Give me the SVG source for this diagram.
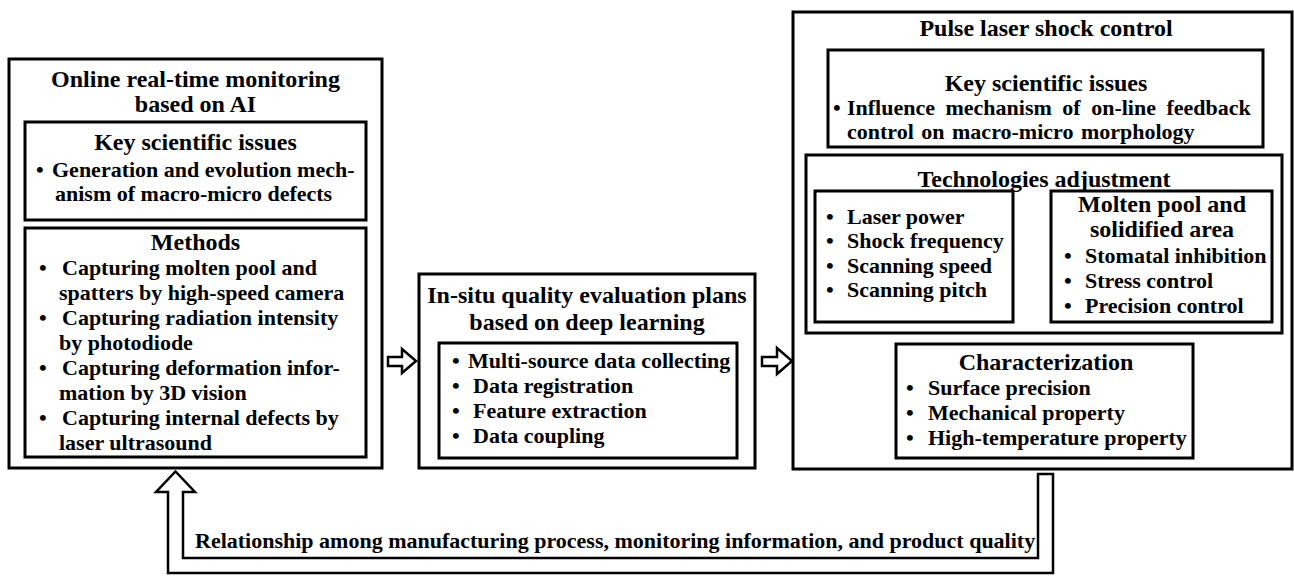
<svg xmlns="http://www.w3.org/2000/svg" width="1294" height="576" viewBox="0 0 1294 576">
<style>
.box{fill:#fff;stroke:#000;stroke-width:3}
.arr{fill:#fff;stroke:#000;stroke-width:2.5;stroke-linejoin:miter}
text{font-family:"Liberation Serif","Times New Roman",serif;font-weight:bold;fill:#000}
.h{font-size:24px;text-anchor:middle}
.t{font-size:22px}
</style>
<rect width="1294" height="576" fill="#fff"/>
<g id="connectors">
<path class="arr" d="M388,357 H402 V349 L416,361 L402,373 V366 H388 Z"/>
<path class="arr" d="M762,357 H777 V348 L792,361 L777,374 V366 H762 Z"/>
<path class="arr" d="M1017,253 H1032 V246 L1047,257.5 L1032,269 V262 H1017 Z"/>
<path class="arr" stroke-width="3" d="M1038,474 H1053 V573 H168 V492 H156 L175.5,471.5 L195,492 H183 V558 H1038 Z"/>
<text class="t" x="195" y="548">Relationship among manufacturing process, monitoring information, and product quality</text>
</g>
<g id="monitoring">
<rect class="box" x="9" y="59" width="373" height="409"/>
<text class="h" x="195.5" y="87">Online real-time monitoring</text>
<text class="h" x="195.5" y="112">based on AI</text>
<g id="monitoring-issues">
<rect class="box" x="25" y="122" width="341" height="98"/>
<text class="h" x="195.5" y="150">Key scientific issues</text>
<text class="t" x="36" y="177">•</text>
<text class="t" x="52" y="177">Generation and evolution mech-</text>
<text class="t" x="55" y="201">anism of macro-micro defects</text>
</g>
<g id="monitoring-methods">
<rect class="box" x="25" y="228" width="341" height="229"/>
<text class="h" x="195.5" y="250">Methods</text>
<text class="t" x="39" y="275">•</text>
<text class="t" x="62" y="275">Capturing molten pool and</text>
<text class="t" x="59" y="300">spatters by high-speed camera</text>
<text class="t" x="39" y="325">•</text>
<text class="t" x="62" y="325">Capturing radiation intensity</text>
<text class="t" x="59" y="350">by photodiode</text>
<text class="t" x="39" y="375">•</text>
<text class="t" x="62" y="375">Capturing deformation infor-</text>
<text class="t" x="59" y="400">mation by 3D vision</text>
<text class="t" x="39" y="425">•</text>
<text class="t" x="62" y="425">Capturing internal defects by</text>
<text class="t" x="59" y="450">laser ultrasound</text>
</g>
</g>
<g id="evaluation">
<rect class="box" x="419" y="274" width="336" height="194"/>
<text class="h" x="587" y="303">In-situ quality evaluation plans</text>
<text class="h" x="587" y="330">based on deep learning</text>
<rect class="box" x="439" y="343" width="298" height="115"/>
<text class="t" x="452" y="368">•</text>
<text class="t" x="468" y="368">Multi-source data collecting</text>
<text class="t" x="452" y="393">•</text>
<text class="t" x="473" y="393">Data registration</text>
<text class="t" x="452" y="418">•</text>
<text class="t" x="473" y="418">Feature extraction</text>
<text class="t" x="452" y="443">•</text>
<text class="t" x="473" y="443">Data coupling</text>
</g>
<g id="shock-control">
<rect class="box" x="793" y="12" width="499" height="457"/>
<text class="h" x="1046" y="36">Pulse laser shock control</text>
<g id="shock-issues">
<rect class="box" x="828" y="50" width="435" height="97"/>
<text class="h" x="1046" y="91">Key scientific issues</text>
<text class="t" x="833" y="115">•</text>
<text class="t" x="847" y="115" word-spacing="5">Influence mechanism of on-line feedback</text>
<text class="t" x="847" y="139" word-spacing="2">control on macro-micro morphology</text>
</g>
<g id="tech-adjustment">
<rect class="box" x="806" y="155" width="476" height="178"/>
<text class="h" x="1044" y="187">Technologies adjustment</text>
<rect class="box" x="815" y="191" width="198" height="131"/>
<text class="t" x="826" y="224">•</text>
<text class="t" x="847" y="224">Laser power</text>
<text class="t" x="826" y="248">•</text>
<text class="t" x="847" y="248">Shock frequency</text>
<text class="t" x="826" y="273">•</text>
<text class="t" x="847" y="273">Scanning speed</text>
<text class="t" x="826" y="297">•</text>
<text class="t" x="847" y="297">Scanning pitch</text>
<rect class="box" x="1051" y="191" width="221" height="131"/>
<text class="h" x="1162" y="212">Molten pool and</text>
<text class="h" x="1162" y="237">solidified area</text>
<text class="t" x="1064" y="263">•</text>
<text class="t" x="1085" y="263">Stomatal inhibition</text>
<text class="t" x="1064" y="288">•</text>
<text class="t" x="1085" y="288">Stress control</text>
<text class="t" x="1064" y="313">•</text>
<text class="t" x="1085" y="313">Precision control</text>
</g>
<g id="characterization">
<rect class="box" x="896" y="344" width="297" height="114"/>
<text class="h" x="1046" y="370">Characterization</text>
<text class="t" x="906" y="395">•</text>
<text class="t" x="928" y="395">Surface precision</text>
<text class="t" x="906" y="420">•</text>
<text class="t" x="928" y="420">Mechanical property</text>
<text class="t" x="906" y="445">•</text>
<text class="t" x="928" y="445">High-temperature property</text>
</g>
</g>
</svg>
